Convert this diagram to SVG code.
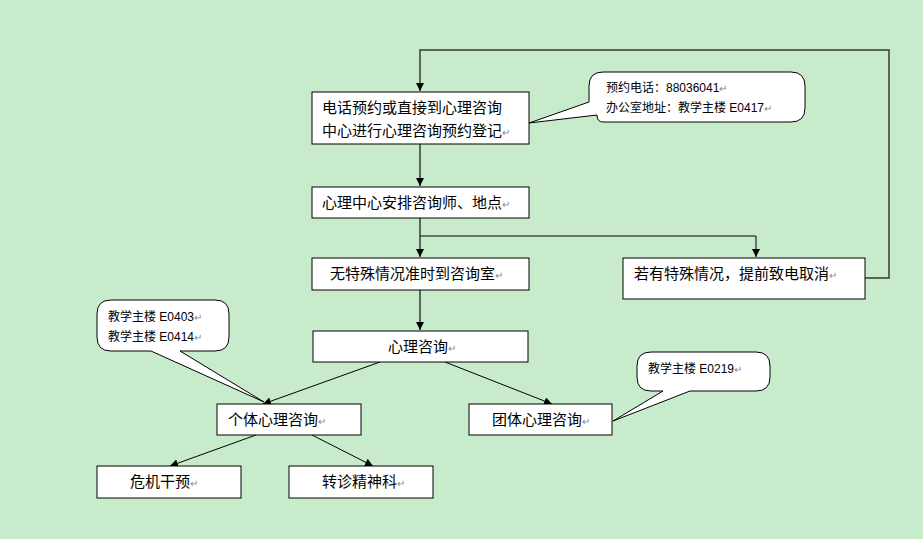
<svg xmlns="http://www.w3.org/2000/svg" width="923" height="539" viewBox="0 0 923 539">
<defs>
<marker id="a" markerWidth="8" markerHeight="10" refX="8" refY="4" orient="auto" markerUnits="userSpaceOnUse"><path d="M0,0 L8,4 L0,8 z" fill="#000"/></marker>
<style>
.b{fill:#fff;stroke:#000;stroke-width:1}
.c{fill:#fff;stroke:#000;stroke-width:1}
.t{font-family:"Liberation Sans","Noto Sans CJK SC",sans-serif;font-size:15px;fill:#000}
.s{font-family:"Liberation Sans","Noto Sans CJK SC",sans-serif;font-size:12px;fill:#000}
.r{fill:#888;font-size:10px}
.l{fill:none;stroke:#000;stroke-width:1}
.g{fill:none;stroke:#3a3a3a;stroke-width:1.5}
</style>
</defs>
<rect width="923" height="539" fill="#c8eccb"/>
<g id="connectors">
<path class="g" d="M420,144 V186" marker-end="url(#a)"/>
<path class="g" d="M420,218 V257" marker-end="url(#a)"/>
<path class="l" d="M420,236 H756 V257" marker-end="url(#a)"/>
<path class="g" d="M865,278 H889 V50 H420 V91" marker-end="url(#a)"/>
<path class="g" d="M420,290 V330" marker-end="url(#a)"/>
<path class="l" d="M380,362 L263,404" marker-end="url(#a)"/>
<path class="l" d="M445,362 L552,404" marker-end="url(#a)"/>
<path class="l" d="M256,435 L170,466" marker-end="url(#a)"/>
<path class="l" d="M312,435 L373,466" marker-end="url(#a)"/>
</g>
<g id="n1"><rect class="b" x="312" y="92" width="217" height="52"/><text class="t" x="322" y="113">电话预约或直接到心理咨询</text><text class="t" x="322" y="136">中心进行心理咨询预约登记<tspan class="r">↵</tspan></text></g>
<g id="n2"><rect class="b" x="312" y="187" width="217" height="31"/><text class="t" x="322" y="208">心理中心安排咨询师、地点<tspan class="r">↵</tspan></text></g>
<g id="n3"><rect class="b" x="312" y="258" width="217" height="32"/><text class="t" x="330" y="279">无特殊情况准时到咨询室<tspan class="r">↵</tspan></text></g>
<g id="n4"><rect class="b" x="623" y="258" width="242" height="41"/><text class="t" x="634" y="279">若有特殊情况，提前致电取消<tspan class="r">↵</tspan></text></g>
<g id="n5"><rect class="b" x="313" y="331" width="215" height="31"/><text class="t" x="388" y="352">心理咨询<tspan class="r">↵</tspan></text></g>
<g id="n6"><rect class="b" x="217" y="404" width="144" height="31"/><text class="t" x="228" y="425">个体心理咨询<tspan class="r">↵</tspan></text></g>
<g id="n7"><rect class="b" x="469" y="404" width="143" height="31"/><text class="t" x="492" y="425">团体心理咨询<tspan class="r">↵</tspan></text></g>
<g id="n8"><rect class="b" x="97" y="466" width="144" height="32"/><text class="t" x="130" y="487">危机干预<tspan class="r">↵</tspan></text></g>
<g id="n9"><rect class="b" x="289" y="466" width="144" height="32"/><text class="t" x="322" y="487">转诊精神科<tspan class="r">↵</tspan></text></g>
<g id="callout1"><path class="c" d="M603,72 H791 Q805,72 805,86 V108 Q805,122 791,122 H603 Q597,122 597,115 L529,123 L589,102 V86 Q589,72 603,72 Z"/><text class="s" x="606" y="92">预约电话：88036041<tspan class="r">↵</tspan></text><text class="s" x="606" y="112">办公室地址：教学主楼 E0417<tspan class="r">↵</tspan></text></g>
<g id="callout2"><path class="c" d="M111,300 H215 Q229,300 229,314 V337 Q229,351 215,351 H180 L264,402 L151,351 H111 Q97,351 97,337 V314 Q97,300 111,300 Z"/><text class="s" x="108" y="321">教学主楼 E0403<tspan class="r">↵</tspan></text><text class="s" x="108" y="341">教学主楼 E0414<tspan class="r">↵</tspan></text></g>
<g id="callout3"><path class="c" d="M651,352 H756 Q770,352 770,366 V377 Q770,391 756,391 H690 L613,421 L663,391 H651 Q637,391 637,377 V366 Q637,352 651,352 Z"/><text class="s" x="648" y="373">教学主楼 E0219<tspan class="r">↵</tspan></text></g>
</svg>
